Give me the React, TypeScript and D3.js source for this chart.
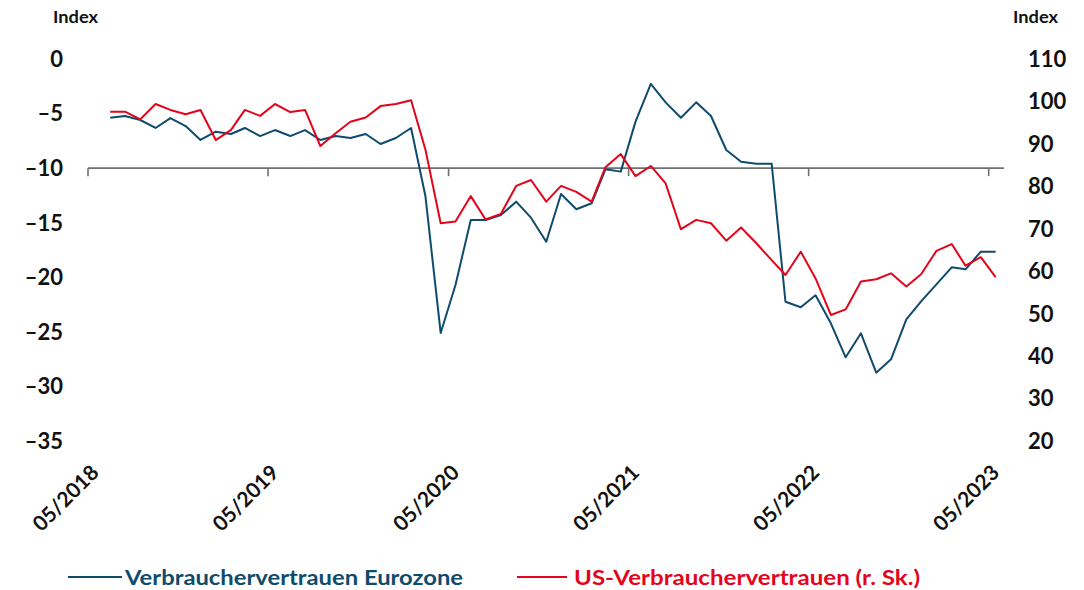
import React from "react";
import * as d3 from "d3";

const startMonth = new Date(2018, 5, 15); // June 2018, mid-month
const euroValues = [
  -5.38, -5.22, -5.59, -6.32, -5.41, -6.14, -7.42, -6.66, -6.87, -6.32,
  -7.06, -6.51, -7.06, -6.51, -7.42, -7.06, -7.24, -6.87, -7.79, -7.24,
  -6.32, -12.55, -25.1, -20.7, -14.75, -14.75, -14.3, -13.07, -14.54, -16.74,
  -12.37, -13.77, -13.22, -10.11, -10.32, -5.74, -2.29, -3.97, -5.38, -3.97,
  -5.22, -8.34, -9.41, -9.59, -9.59, -22.24, -22.75, -21.65, -24.22, -27.33,
  -25.13, -28.74, -27.52, -23.85, -22.2, -20.65, -19.09, -19.27, -17.65, -17.65,
];
const usValues = [
  97.6, 97.6, 95.8, 99.4, 98.0, 97.0, 98.0, 90.9, 93.3, 98.0,
  96.6, 99.4, 97.5, 98.0, 89.5, 92.5, 95.2, 96.2, 98.9, 99.4,
  100.3, 88.7, 71.3, 71.7, 77.7, 72.2, 73.5, 80.1, 81.5, 76.4,
  80.1, 78.7, 76.4, 84.5, 87.6, 82.4, 84.8, 80.7, 69.9, 72.1,
  71.3, 67.2, 70.3, 66.6, 62.6, 59.1, 64.6, 58.3, 49.7, 51.0,
  57.6, 58.1, 59.5, 56.4, 59.3, 64.8, 66.4, 61.3, 63.3, 58.6,
];
const leftTicks = [0, -5, -10, -15, -20, -25, -30, -35];
const rightTicks = [110, 100, 90, 80, 70, 60, 50, 40, 30, 20];
const xTickYears = [2018, 2019, 2020, 2021, 2022, 2023];
const legendLabels = ["Verbrauchervertrauen Eurozone", "US-Verbrauchervertrauen (r. Sk.)"];

const BLUE = "#0e4b6c";
const RED = "#e3051b";
const GRAY = "#707070";
const FONT = "Lato, 'Open Sans', sans-serif";

export default function App() {
  const dates = euroValues.map(
    (_, i) => new Date(startMonth.getFullYear(), startMonth.getMonth() + i, 15)
  );
  const x = d3
    .scaleTime()
    .domain([new Date(2018, 4, 1), new Date(2023, 4, 1)])
    .range([88, 988.7]);
  const yL = d3.scaleLinear().domain([0, -35]).range([59, 441]);
  const yR = d3.scaleLinear().domain([110, 20]).range([59, 441]);

  const euroLine = d3
    .line<number>()
    .x((_, i) => x(dates[i]))
    .y((d) => yL(d));
  const usLine = d3
    .line<number>()
    .x((_, i) => x(dates[i]))
    .y((d) => yR(d));

  const axisY = yL(-10);
  const axisEnd = x(new Date(2023, 5, 1));
  const fmt = (v: number) => (v < 0 ? "\u2013" + Math.abs(v) : String(v));

  return (
    <svg
      width={1084}
      height={590}
      style={{ position: "absolute", left: 0, top: 0, background: "#fff" }}
      fontFamily={FONT}
    >
      <text x={53} y={23} fontSize={17} fontWeight={700} fill="#111" textLength={45} lengthAdjust="spacingAndGlyphs">Index</text>
      <text x={1013} y={23} fontSize={17} fontWeight={700} fill="#111" textLength={45} lengthAdjust="spacingAndGlyphs">Index</text>

      {leftTicks.map((t) => (
        <text key={"l" + t} x={63} y={yL(t)} dy="0.36em" textAnchor="end" fontSize={22} fontWeight={700} fill="#111">
          {fmt(t)}
        </text>
      ))}
      {rightTicks.map((t) => (
        <text key={"r" + t} x={1028} y={yR(t)} dy="0.36em" textAnchor="start" fontSize={22} fontWeight={700} fill="#111">
          {t}
        </text>
      ))}

      <line x1={x(new Date(2018, 4, 1))} x2={axisEnd} y1={axisY} y2={axisY} stroke={GRAY} strokeWidth={1.6} />
      {xTickYears.map((yr) => {
        const xx = x(new Date(yr, 4, 1));
        return (
          <g key={yr}>
            <line x1={xx} x2={xx} y1={axisY} y2={axisY + 8} stroke={GRAY} strokeWidth={1.6} />
            <text
              transform={`translate(${xx + 12},${474}) rotate(-45)`}
              textAnchor="end"
              fontSize={21}
              fontWeight={700}
              fill="#111"
            >
              {"05/" + yr}
            </text>
          </g>
        );
      })}

      <path d={euroLine(euroValues) || ""} fill="none" stroke={BLUE} strokeWidth={2} strokeLinejoin="round" />
      <path d={usLine(usValues) || ""} fill="none" stroke={RED} strokeWidth={2} strokeLinejoin="round" />

      <line x1={68} x2={122} y1={577} y2={577} stroke={BLUE} strokeWidth={2} />
      <text x={125} y={585} fontSize={21} fontWeight={700} fill={BLUE} textLength={338} lengthAdjust="spacingAndGlyphs">
        {legendLabels[0]}
      </text>
      <line x1={517} x2={567} y1={577} y2={577} stroke={RED} strokeWidth={2} />
      <text x={574} y={585} fontSize={21} fontWeight={700} fill={RED} textLength={346} lengthAdjust="spacingAndGlyphs">
        {legendLabels[1]}
      </text>
    </svg>
  );
}
